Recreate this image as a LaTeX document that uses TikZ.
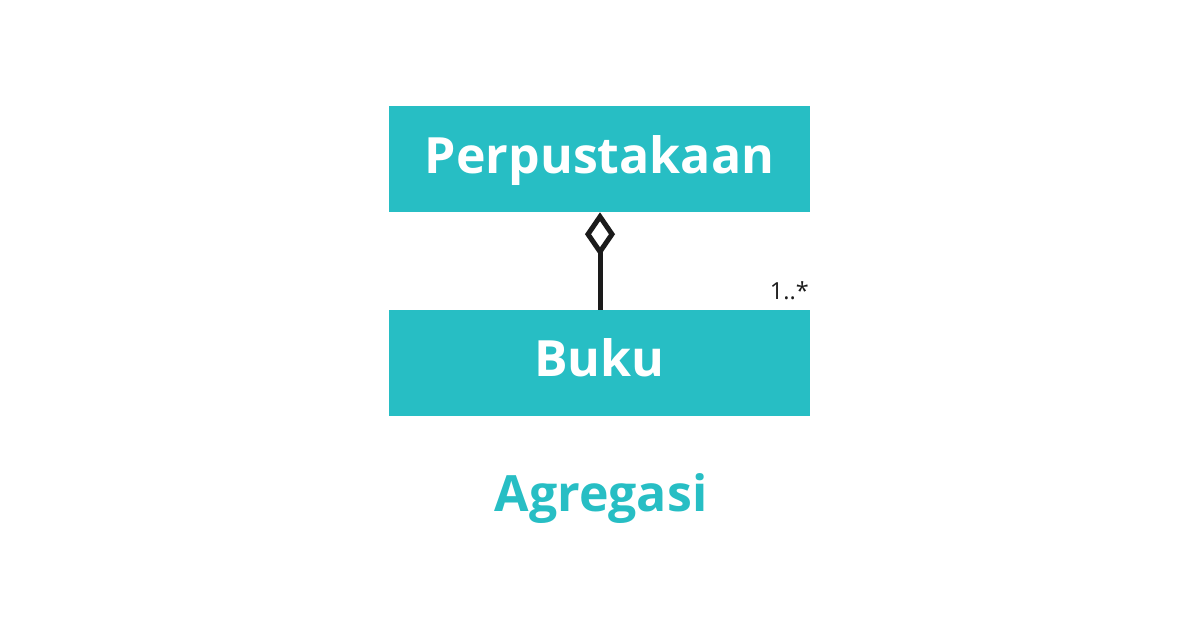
\documentclass[tikz,border=0pt]{standalone}
\usepackage{fontspec}
\setmainfont{Open Sans}
\usetikzlibrary{calc}
\definecolor{teal1}{HTML}{27BEC4}
\definecolor{ink}{HTML}{1A1A1A}
\tikzset{
  classbox/.style={fill=teal1, draw=none, minimum width=421pt, minimum height=106pt, inner sep=0pt, text=white, font=\bfseries\fontsize{50pt}{54pt}\selectfont},
  conn/.style={draw=ink, line width=5pt},
  mult/.style={text=ink, font=\fontsize{23.5pt}{26pt}\selectfont, inner sep=0pt},
}
\begin{document}
\begin{tikzpicture}[x=1pt,y=-1pt]
\useasboundingbox (0,0) rectangle (1200,630);
\node[classbox, text height=35pt, text depth=7pt] (perp) at (599.5,159) {Perpustakaan};
\node[classbox, text height=35pt, text depth=9pt] (buku) at (599.5,363) {Buku};
\coordinate (dtop) at ($(perp.south)+(0.5,4.5)$);
\coordinate (dbot) at ($(perp.south)+(0.5,39.5)$);
\draw[conn, line join=miter] (dtop) -- ++(12,17.5) -- (dbot) -- ++(-12,-17.5) -- cycle;
\draw[conn] (dbot) -- (dbot |- buku.north);
\node[mult, anchor=base east] (m) at (809,299) {1..*};
\node[text=teal1, font=\bfseries\fontsize{50pt}{54pt}\selectfont, anchor=base, inner sep=0pt] (agr) at (601,511) {Agregasi};
\end{tikzpicture}
\end{document}
